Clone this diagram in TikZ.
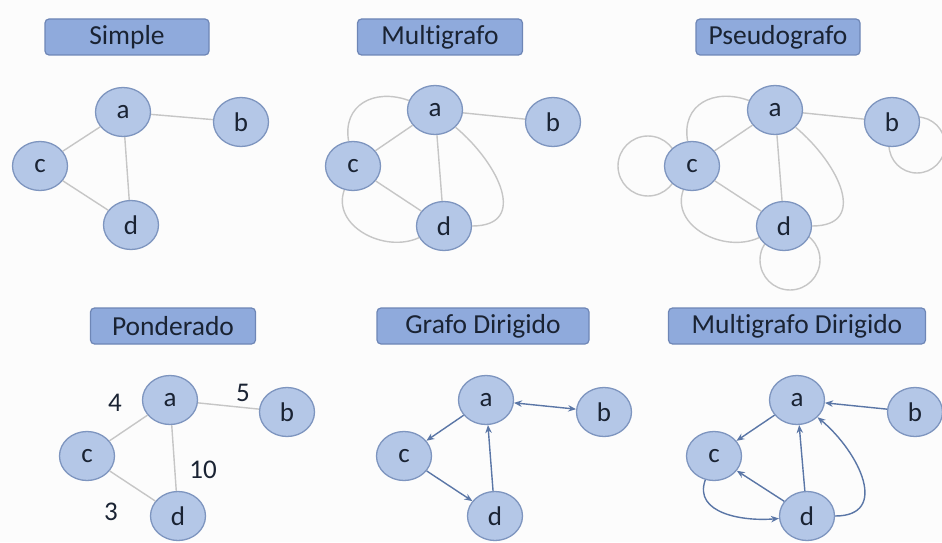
\documentclass[tikz,border=0pt]{standalone}
\usepackage{fontspec}
\setmainfont[Ligatures=NoCommon]{Carlito}
\usetikzlibrary{arrows.meta,shapes.geometric,calc,backgrounds}
\definecolor{nodefill}{HTML}{B4C7E7}
\definecolor{nodedraw}{HTML}{7E95BF}
\definecolor{titlefill}{HTML}{8FAADC}
\definecolor{titledraw}{HTML}{6E86B6}
\definecolor{txt}{HTML}{1A2333}
\definecolor{edgegray}{HTML}{C6C6C6}
\definecolor{arrowblue}{HTML}{5A76A6}
\definecolor{bgc}{HTML}{FCFCFC}
\begin{document}
\begin{tikzpicture}[x=1pt,y=1pt,
 vert/.style={ellipse, fill=nodefill, draw=nodedraw, line width=1.3pt, minimum width=55pt, minimum height=49pt, inner sep=0pt, text=txt, font=\fontsize{27}{27}\selectfont},
 titlebox/.style={rectangle, rounded corners=4pt, fill=titlefill, draw=titledraw, line width=1.2pt, minimum height=36pt, inner sep=0pt, text=txt, font=\fontsize{27.5}{27.5}\selectfont},
 edge/.style={draw=edgegray, line width=1.4pt},
 arc/.style={draw=arrowblue, line width=1.4pt, -{Stealth[length=8pt,width=6.5pt]}},
 wlabel/.style={text=txt, font=\fontsize{27}{27}\selectfont, inner sep=0pt}
]
\begin{pgfonlayer}{background}
\fill[bgc] (0,0) rectangle (942,542);
\end{pgfonlayer}
\useasboundingbox (0,0) rectangle (942,542);
\clip (0,0) rectangle (942,542);

% ---------- Simple ----------
\node[titlebox, minimum width=164pt] (t1) at (127,505) {Simple};
\node[vert] (a1) at (123,430) {a};
\node[vert] (b1) at (241,420) {b};
\node[vert] (c1) at (40,376) {c};
\node[vert] (d1) at (131,317) {d};
\draw[edge] (a1) -- (b1);
\draw[edge] (a1) -- (c1);
\draw[edge] (a1) -- (d1);
\draw[edge] (c1) -- (d1);

% ---------- Multigrafo ----------
\node[titlebox, minimum width=165pt] (t2) at (440,505) {Multigrafo};
\node[vert] (a2) at (435,432) {a};
\node[vert] (b2) at (553,420) {b};
\node[vert] (c2) at (353,376) {c};
\node[vert] (d2) at (444,316) {d};
\draw[edge] (a2) -- (b2);
\draw[edge] (a2) -- (c2);
\draw[edge] (a2) -- (d2);
\draw[edge] (c2) -- (d2);
\draw[edge] (c2) to[out=100,in=160,looseness=1.3] (a2);
\draw[edge] (a2) to[out=-40,in=0,looseness=1.45] (d2);
\draw[edge] (c2) to[out=-110,in=205,looseness=1.1] (d2);

% ---------- Pseudografo ----------
\node[titlebox, minimum width=164pt] (t3) at (778,505) {Pseudografo};
\node[vert] (a3) at (775,432) {a};
\node[vert] (b3) at (892,420) {b};
\node[vert] (c3) at (692,376) {c};
\node[vert] (d3) at (784,316) {d};
\draw[edge] (a3) -- (b3);
\draw[edge] (a3) -- (c3);
\draw[edge] (a3) -- (d3);
\draw[edge] (c3) -- (d3);
\draw[edge] (c3) to[out=100,in=160,looseness=1.3] (a3);
\draw[edge] (a3) to[out=-40,in=0,looseness=1.45] (d3);
\draw[edge] (c3) to[out=-110,in=205,looseness=1.1] (d3);
\begin{pgfonlayer}{background}
\draw[edge] ($(c3.center)+(-44,0)$) circle (30);
\draw[edge] ($(d3.center)+(6,-34)$) circle (30);
\draw[edge] ($(b3.center)+(25,-23)$) circle (28);
\end{pgfonlayer}

% ---------- Ponderado ----------
\node[titlebox, minimum width=165pt] (t4) at (173,216) {Ponderado};
\node[vert] (a4) at (170,142) {a};
\node[vert] (b4) at (287,130) {b};
\node[vert] (c4) at (87,86) {c};
\node[vert] (d4) at (178,26) {d};
\draw[edge] (a4) -- (b4);
\draw[edge] (a4) -- (c4);
\draw[edge] (a4) -- (d4);
\draw[edge] (c4) -- (d4);
\node[wlabel] (w4) at (115,139) {4};
\node[wlabel] (w5) at (243,149) {5};
\node[wlabel] (w10) at (203,72) {10};
\node[wlabel] (w3) at (111,30) {3};

% ---------- Grafo Dirigido ----------
\node[titlebox, minimum width=212pt] (t5) at (483,216) {Grafo Dirigido};
\node[vert] (a5) at (486,142) {a};
\node[vert] (b5) at (604,130) {b};
\node[vert] (c5) at (404,86) {c};
\node[vert] (d5) at (495,26) {d};
\draw[arc, {Stealth[length=8pt,width=6.5pt]}-{Stealth[length=8pt,width=6.5pt]}] (a5) -- (b5);
\draw[arc] (a5) -- (c5);
\draw[arc] (c5) -- (d5);
\draw[arc] (d5) -- (a5);

% ---------- Multigrafo Dirigido ----------
\node[titlebox, minimum width=257pt] (t6) at (797,216) {Multigrafo Dirigido};
\node[vert] (a6) at (797,142) {a};
\node[vert] (b6) at (915,130) {b};
\node[vert] (c6) at (714,86) {c};
\node[vert] (d6) at (807,26) {d};
\draw[arc] (b6) -- (a6);
\draw[arc] (a6) -- (c6);
\draw[arc] (d6) -- (a6);
\draw[arc] (d6) -- (c6);
\draw[arc] (c6) to[out=-110,in=185,looseness=1.1] (d6);
\draw[arc] (d6) to[out=0,in=-40,looseness=1.4] (a6);
\end{tikzpicture}
\end{document}
